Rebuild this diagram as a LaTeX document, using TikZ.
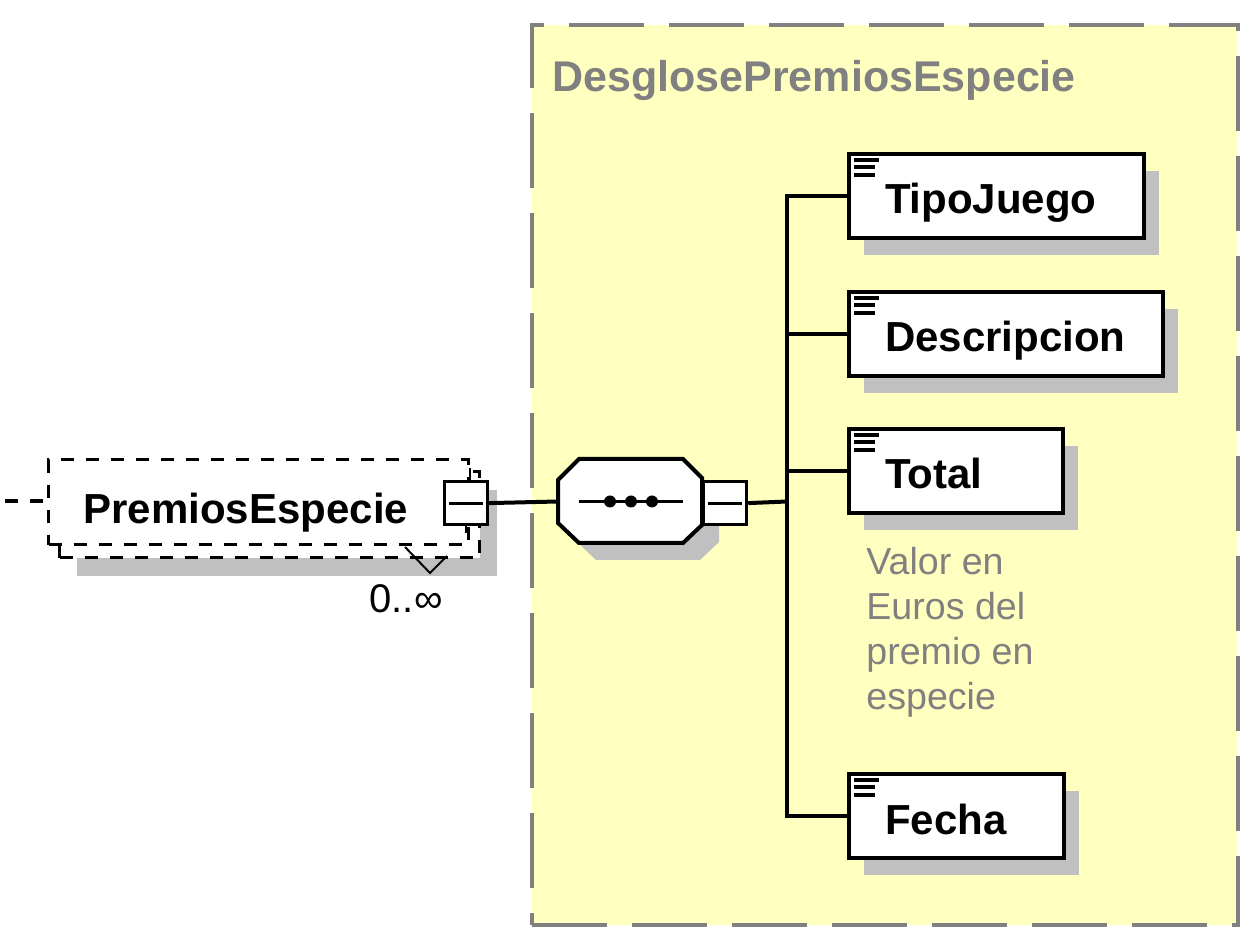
\documentclass[tikz,border=0pt]{standalone}
\usepackage{fontspec}
\setmainfont{Liberation Sans}
\usetikzlibrary{shadows}
\definecolor{grpyellow}{RGB}{255,255,192}
\definecolor{grpgray}{RGB}{128,128,128}
\definecolor{shadegray}{RGB}{192,192,192}
\newcommand{\elfont}{\fontsize{21}{25}\selectfont\bfseries}
\newcommand{\docfont}{\fontsize{18.8}{22.5}\selectfont}
\newcommand{\multfont}{\fontsize{20}{24}\selectfont}
\newcommand{\seqoutline}{(558,480) -- (579,459) -- (683,459) -- (702,478)
  -- (702,525) -- (683,543) -- (579,543) -- (558,523) -- cycle}

\begin{document}
\begin{tikzpicture}[
  x=0.5pt, y=-0.5pt,
  conn/.style={line width=2pt},
  grpbox/.style={draw=grpgray, fill=grpyellow, line width=2pt,
                 dash pattern=on 37.5pt off 12.5pt, anchor=north west,
                 minimum width=353pt, minimum height=450pt},
  grptitle/.style={text=grpgray, inner sep=0pt, anchor=base west,
                   font=\fontsize{21.5}{26}\selectfont\bfseries},
  elem/.style={draw, line width=2pt, fill=white, anchor=north west,
               minimum height=42pt, inner xsep=18pt, inner ysep=0pt,
               align=left, text height=18pt, text depth=0pt, font=\elfont,
               drop shadow={shadow xshift=7.5pt, shadow yshift=-8.5pt,
                            fill=shadegray, opacity=1}},
  optelem/.style={draw, line width=1.6pt, dash pattern=on 6.5pt off 6pt,
                  fill=white, anchor=north west, inner sep=0pt},
  minusbox/.style={draw, line width=1.6pt, fill=white, anchor=north west,
                   minimum size=21.5pt, inner sep=0pt},
  seqbox/.style={inner sep=0pt, minimum width=72pt, minimum height=42pt},
  doctext/.style={text=grpgray, anchor=north west, inner sep=0pt,
                  align=left, font=\docfont},
]
\useasboundingbox (0,0) rectangle (1254,946);

% group of the complex type
\node[grpbox] (grp) at (530,23) {};
\node[grptitle] (grptitle) at (552,92) {DesglosePremiosEspecie};

% optional, repeated element
\node[optelem, minimum width=210pt, minimum height=43pt,
      drop shadow={shadow xshift=8.75pt, shadow yshift=-9.25pt,
                   fill=shadegray, opacity=1}] (pback) at (58,470) {};
\node[optelem, font=\elfont, text width=175pt, align=left, inner xsep=17.5pt,
      minimum height=42.5pt, text height=21.5pt, text depth=0pt]
      (pelem) at (47,458) {PremiosEspecie};
\node[minusbox] (pminus) at (443,480) {};
\draw[line width=1.5pt] ([xshift=3pt]pminus.west) -- ([xshift=-3pt]pminus.east);
\draw[line width=1.2pt] ([xshift=2pt]pminus.north) -- ++(0,-12);
\draw[line width=1.2pt] (pminus.south) -- ++(0,7);
\coordinate (pin) at (5,501.5);
\draw[conn, dash pattern=on 6.5pt off 6pt] (pin) -- (pin -| pelem.west);
\draw[line width=1pt] (405,547) -- (430,573) -- (447,556);
\node[font=\multfont, anchor=base east, inner sep=0pt] (pmult) at (443,613) {0..∞};

% sequence
\node[seqbox] (seq) at (630,501.5) {};
\fill[shadegray, shift={(17,17)}] \seqoutline;
\draw[line width=2pt, fill=white] \seqoutline;
\draw[line width=1.8pt] (579,501.5) -- (683,501.5);
\foreach \x in {610,631,652}
  \fill (\x,501.5) circle (3pt);
\node[minusbox] (sminus) at (702,480) {};
\draw[line width=1.5pt] ([xshift=3pt]sminus.west) -- ([xshift=-3pt]sminus.east);
\draw[conn] (pminus.east) -- (seq.west);

% child elements
\node[elem, text width=111.5pt] (tipo) at (847,152) {TipoJuego};
\node[elem, text width=121pt] (desc) at (847,290) {Descripcion};
\node[elem, text width=71pt] (total) at (847,427) {Total};
\node[doctext] (totaldoc) at (866,547) {Valor en\\Euros del\\premio en\\especie};
\node[elem, text width=71.5pt] (fecha) at (847,772) {Fecha};

\foreach \n in {tipo,desc,total,fecha} {
  \draw[line width=1.8pt] ([xshift=3.5pt,yshift=-4pt]\n.north west) -- ++(12.5pt,0);
  \draw[line width=1.8pt] ([xshift=3.5pt,yshift=-7.5pt]\n.north west) -- ++(10.5pt,0);
  \draw[line width=1.8pt] ([xshift=3.5pt,yshift=-11.5pt]\n.north west) -- ++(10.5pt,0);
}

\coordinate (bus) at (787,501.5);
\draw[conn] (sminus.east) -- (bus);
\draw[conn] (tipo.west) -| (bus) |- (fecha.west);
\draw[conn] (desc.west) -- (desc.west -| bus);
\draw[conn] (total.west) -- (total.west -| bus);
\end{tikzpicture}
\end{document}
